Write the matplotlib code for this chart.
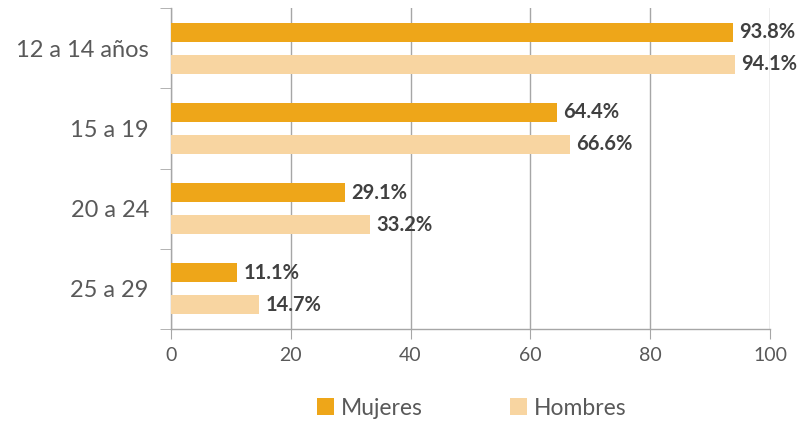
import numpy as np
import matplotlib
matplotlib.use('Agg')
import matplotlib.pyplot as plt

plt.rcParams['font.family'] = ['Lato', 'DejaVu Sans']

categories = ['12 a 14 años', '15 a 19', '20 a 24', '25 a 29']
mujeres = [93.8, 64.4, 29.1, 11.1]
hombres = [94.1, 66.6, 33.2, 14.7]
series_names = ['Mujeres', 'Hombres']
xticks = [0, 20, 40, 60, 80, 100]

c_muj = '#EEA619'
c_hom = '#F8D5A1'
grid_c = '#A6A6A6'
text_c = '#595959'
label_c = '#404040'

fig = plt.figure(figsize=(7.99, 4.22), dpi=100)
ax = fig.add_axes([0.214, 0.2204, 0.7497, 0.7606])

y = np.arange(len(categories))
h = 0.2375
off = 0.2
b1 = ax.barh(y - off, mujeres, height=h, color=c_muj, label=series_names[0], zorder=3)
b2 = ax.barh(y + off, hombres, height=h, color=c_hom, label=series_names[1], zorder=3)

for bars, vals in ((b1, mujeres), (b2, hombres)):
    for rect, v in zip(bars, vals):
        ax.annotate(f'{v:.1f}%', (rect.get_width(), rect.get_y() + rect.get_height() / 2),
                    xytext=(4.5, 0), textcoords='offset points', va='center', ha='left',
                    fontsize=14.5, fontweight='bold', color=label_c, zorder=4)

ax.set_xlim(0, 100)
ax.set_ylim(len(categories) - 0.5, -0.5)
ax.set_xticks(xticks)
ax.set_xticklabels([str(t) for t in xticks])
ax.set_yticks(y)
ax.set_yticklabels(categories)
ax.set_yticks(np.arange(-0.5, len(categories)), minor=True)

ax.xaxis.grid(True, color=grid_c, linewidth=1, zorder=0)
ax.yaxis.grid(False)
for s in ['top', 'right']:
    ax.spines[s].set_visible(False)
for s in ['left', 'bottom']:
    ax.spines[s].set_color(grid_c)
    ax.spines[s].set_linewidth(1)

ax.tick_params(axis='x', which='major', length=7, color=grid_c, labelcolor=text_c,
               labelsize=14, pad=6)
ax.tick_params(axis='y', which='major', length=0, labelcolor=text_c, labelsize=17, pad=16)
ax.tick_params(axis='y', which='minor', length=8, color=grid_c)

fig.legend(handles=[b1, b2], labels=series_names, loc='center', bbox_to_anchor=(0.59, 0.033),
           ncol=2, frameon=False, fontsize=16.5, handlelength=0.75, handleheight=0.75,
           handletextpad=0.3, columnspacing=3.8, labelcolor=text_c)

fig.savefig('out.png', dpi=100)
